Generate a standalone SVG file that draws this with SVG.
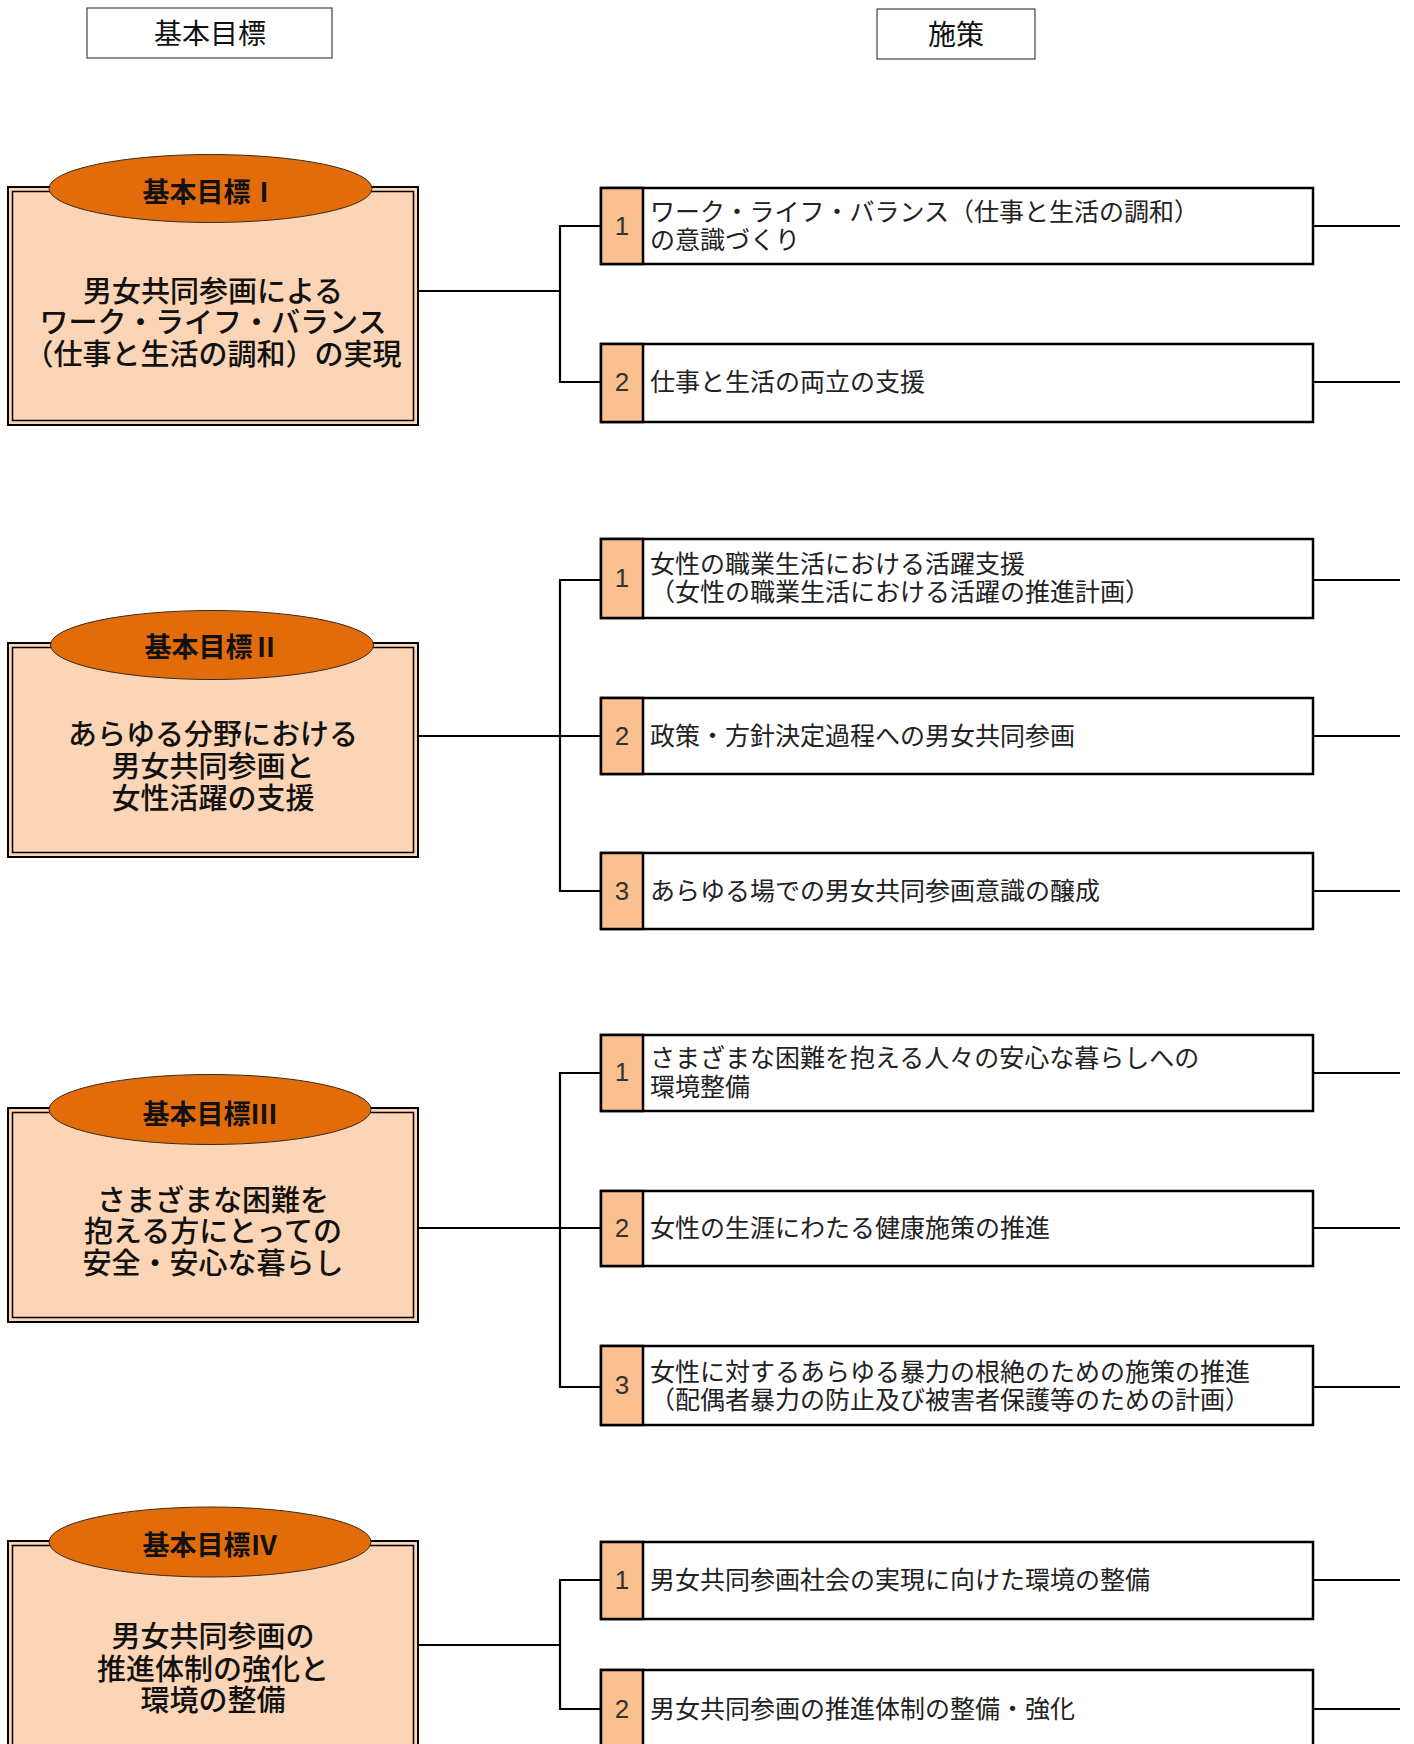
<svg xmlns="http://www.w3.org/2000/svg" width="1414" height="1744" viewBox="0 0 1414 1744">
<style>
.hdr{fill:#fff;stroke:#444;stroke-width:1.2}
.hdrt{font-family:"Noto Sans CJK JP","Noto Sans",sans-serif;font-size:28px;fill:#111;text-anchor:middle;dominant-baseline:central}
.goal{fill:#FBD5B5;stroke:#000;stroke-width:2}
.goali{fill:none;stroke:#000;stroke-width:1.5}
.ell{fill:#E36C0A;stroke:#3a2a1a;stroke-width:1}
.ellt{font-family:"Noto Sans CJK JP","Noto Sans",sans-serif;font-size:27px;font-weight:bold;fill:#111;text-anchor:middle;dominant-baseline:central}
.gt{font-family:"Noto Sans CJK JP","Noto Sans",sans-serif;font-size:29px;font-weight:500;fill:#111;text-anchor:middle;dominant-baseline:central}
.pol{fill:#fff;stroke:#000;stroke-width:2.5}
.num{fill:#FAC090;stroke:#000;stroke-width:2.5}
.numt{font-family:"Liberation Sans",Arial,sans-serif;font-size:26px;fill:#333;text-anchor:middle;dominant-baseline:central}
.pt{font-family:"Noto Sans CJK JP","Noto Sans",sans-serif;font-size:25px;fill:#222;dominant-baseline:central}
.con line,.con polyline{stroke:#000;stroke-width:2.2;fill:none}
</style>

<g id="header-goal"><rect class="hdr" x="87" y="8" width="245" height="50"/><text class="hdrt" x="210" y="32">基本目標</text></g>
<g id="header-policy"><rect class="hdr" x="877" y="9" width="158" height="50"/><text class="hdrt" x="956" y="33">施策</text></g>

<g class="con" id="connectors">
<line x1="418" y1="291" x2="560" y2="291"/>
<polyline points="601,226 560,226 560,382 601,382"/>
<line x1="1313" y1="226" x2="1400" y2="226"/>
<line x1="1313" y1="382" x2="1400" y2="382"/>
<line x1="418" y1="736" x2="601" y2="736"/>
<polyline points="601,580 560,580 560,891 601,891"/>
<line x1="1313" y1="580" x2="1400" y2="580"/>
<line x1="1313" y1="736" x2="1400" y2="736"/>
<line x1="1313" y1="891" x2="1400" y2="891"/>
<line x1="418" y1="1228" x2="601" y2="1228"/>
<polyline points="601,1073 560,1073 560,1387 601,1387"/>
<line x1="1313" y1="1073" x2="1400" y2="1073"/>
<line x1="1313" y1="1228" x2="1400" y2="1228"/>
<line x1="1313" y1="1387" x2="1400" y2="1387"/>
<line x1="418" y1="1645" x2="560" y2="1645"/>
<polyline points="601,1580 560,1580 560,1709 601,1709"/>
<line x1="1313" y1="1580" x2="1400" y2="1580"/>
<line x1="1313" y1="1709" x2="1400" y2="1709"/>
</g>

<g id="goal1">
<rect class="goal" x="8" y="187" width="410" height="238"/>
<rect class="goali" x="12.5" y="191.5" width="401" height="229"/>
<ellipse class="ell" cx="210.5" cy="188.5" rx="161.5" ry="34"/>
<text class="ellt" x="210" y="190">基本目標Ⅰ</text>
<text class="gt" x="213" y="289">男女共同参画による</text>
<text class="gt" x="213" y="320">ワーク・ライフ・バランス</text>
<text class="gt" x="213" y="352">（仕事と生活の調和）の実現</text>
</g>

<g id="goal2">
<rect class="goal" x="8" y="643" width="410" height="214"/>
<rect class="goali" x="12.5" y="647.5" width="401" height="205"/>
<ellipse class="ell" cx="212" cy="645" rx="161.5" ry="34.5"/>
<text class="ellt" x="212" y="645">基本目標Ⅱ</text>
<text class="gt" x="213" y="732">あらゆる分野における</text>
<text class="gt" x="213" y="764">男女共同参画と</text>
<text class="gt" x="213" y="796">女性活躍の支援</text>
</g>

<g id="goal3">
<rect class="goal" x="8" y="1108" width="410" height="214"/>
<rect class="goali" x="12.5" y="1112.5" width="401" height="205"/>
<ellipse class="ell" cx="210" cy="1109.5" rx="161" ry="35"/>
<text class="ellt" x="210" y="1112">基本目標Ⅲ</text>
<text class="gt" x="213" y="1198">さまざまな困難を</text>
<text class="gt" x="213" y="1229">抱える方にとっての</text>
<text class="gt" x="213" y="1261">安全・安心な暮らし</text>
</g>

<g id="goal4">
<rect class="goal" x="8" y="1541" width="410" height="230"/>
<rect class="goali" x="12.5" y="1545.5" width="401" height="220"/>
<ellipse class="ell" cx="210" cy="1542" rx="161" ry="35"/>
<text class="ellt" x="210" y="1543">基本目標Ⅳ</text>
<text class="gt" x="213" y="1634">男女共同参画の</text>
<text class="gt" x="213" y="1667">推進体制の強化と</text>
<text class="gt" x="213" y="1698">環境の整備</text>
</g>

<g id="p1-1"><rect class="pol" x="601" y="188" width="712" height="76"/><rect class="num" x="601" y="188" width="42" height="76"/><text class="numt" x="622" y="226">1</text>
<text class="pt" x="650" y="210">ワーク・ライフ・バランス（仕事と生活の調和）</text><text class="pt" x="650" y="238">の意識づくり</text></g>
<g id="p1-2"><rect class="pol" x="601" y="344" width="712" height="78"/><rect class="num" x="601" y="344" width="42" height="78"/><text class="numt" x="622" y="382">2</text>
<text class="pt" x="650" y="380">仕事と生活の両立の支援</text></g>

<g id="p2-1"><rect class="pol" x="601" y="539" width="712" height="79"/><rect class="num" x="601" y="539" width="42" height="79"/><text class="numt" x="622" y="578">1</text>
<text class="pt" x="650" y="562">女性の職業生活における活躍支援</text><text class="pt" x="650" y="590">（女性の職業生活における活躍の推進計画）</text></g>
<g id="p2-2"><rect class="pol" x="601" y="698" width="712" height="76"/><rect class="num" x="601" y="698" width="42" height="76"/><text class="numt" x="622" y="736">2</text>
<text class="pt" x="650" y="734">政策・方針決定過程への男女共同参画</text></g>
<g id="p2-3"><rect class="pol" x="601" y="853" width="712" height="76"/><rect class="num" x="601" y="853" width="42" height="76"/><text class="numt" x="622" y="891">3</text>
<text class="pt" x="650" y="889">あらゆる場での男女共同参画意識の醸成</text></g>

<g id="p3-1"><rect class="pol" x="601" y="1035" width="712" height="76"/><rect class="num" x="601" y="1035" width="42" height="76"/><text class="numt" x="622" y="1072">1</text>
<text class="pt" x="650" y="1056">さまざまな困難を抱える人々の安心な暮らしへの</text><text class="pt" x="650" y="1085">環境整備</text></g>
<g id="p3-2"><rect class="pol" x="601" y="1191" width="712" height="75"/><rect class="num" x="601" y="1191" width="42" height="75"/><text class="numt" x="622" y="1228">2</text>
<text class="pt" x="650" y="1226">女性の生涯にわたる健康施策の推進</text></g>
<g id="p3-3"><rect class="pol" x="601" y="1346" width="712" height="79"/><rect class="num" x="601" y="1346" width="42" height="79"/><text class="numt" x="622" y="1385">3</text>
<text class="pt" x="650" y="1370">女性に対するあらゆる暴力の根絶のための施策の推進</text><text class="pt" x="650" y="1398">（配偶者暴力の防止及び被害者保護等のための計画）</text></g>

<g id="p4-1"><rect class="pol" x="601" y="1542" width="712" height="77"/><rect class="num" x="601" y="1542" width="42" height="77"/><text class="numt" x="622" y="1580">1</text>
<text class="pt" x="650" y="1578">男女共同参画社会の実現に向けた環境の整備</text></g>
<g id="p4-2"><rect class="pol" x="601" y="1670" width="712" height="90"/><rect class="num" x="601" y="1670" width="42" height="90"/><text class="numt" x="622" y="1709">2</text>
<text class="pt" x="650" y="1707">男女共同参画の推進体制の整備・強化</text></g>
</svg>
